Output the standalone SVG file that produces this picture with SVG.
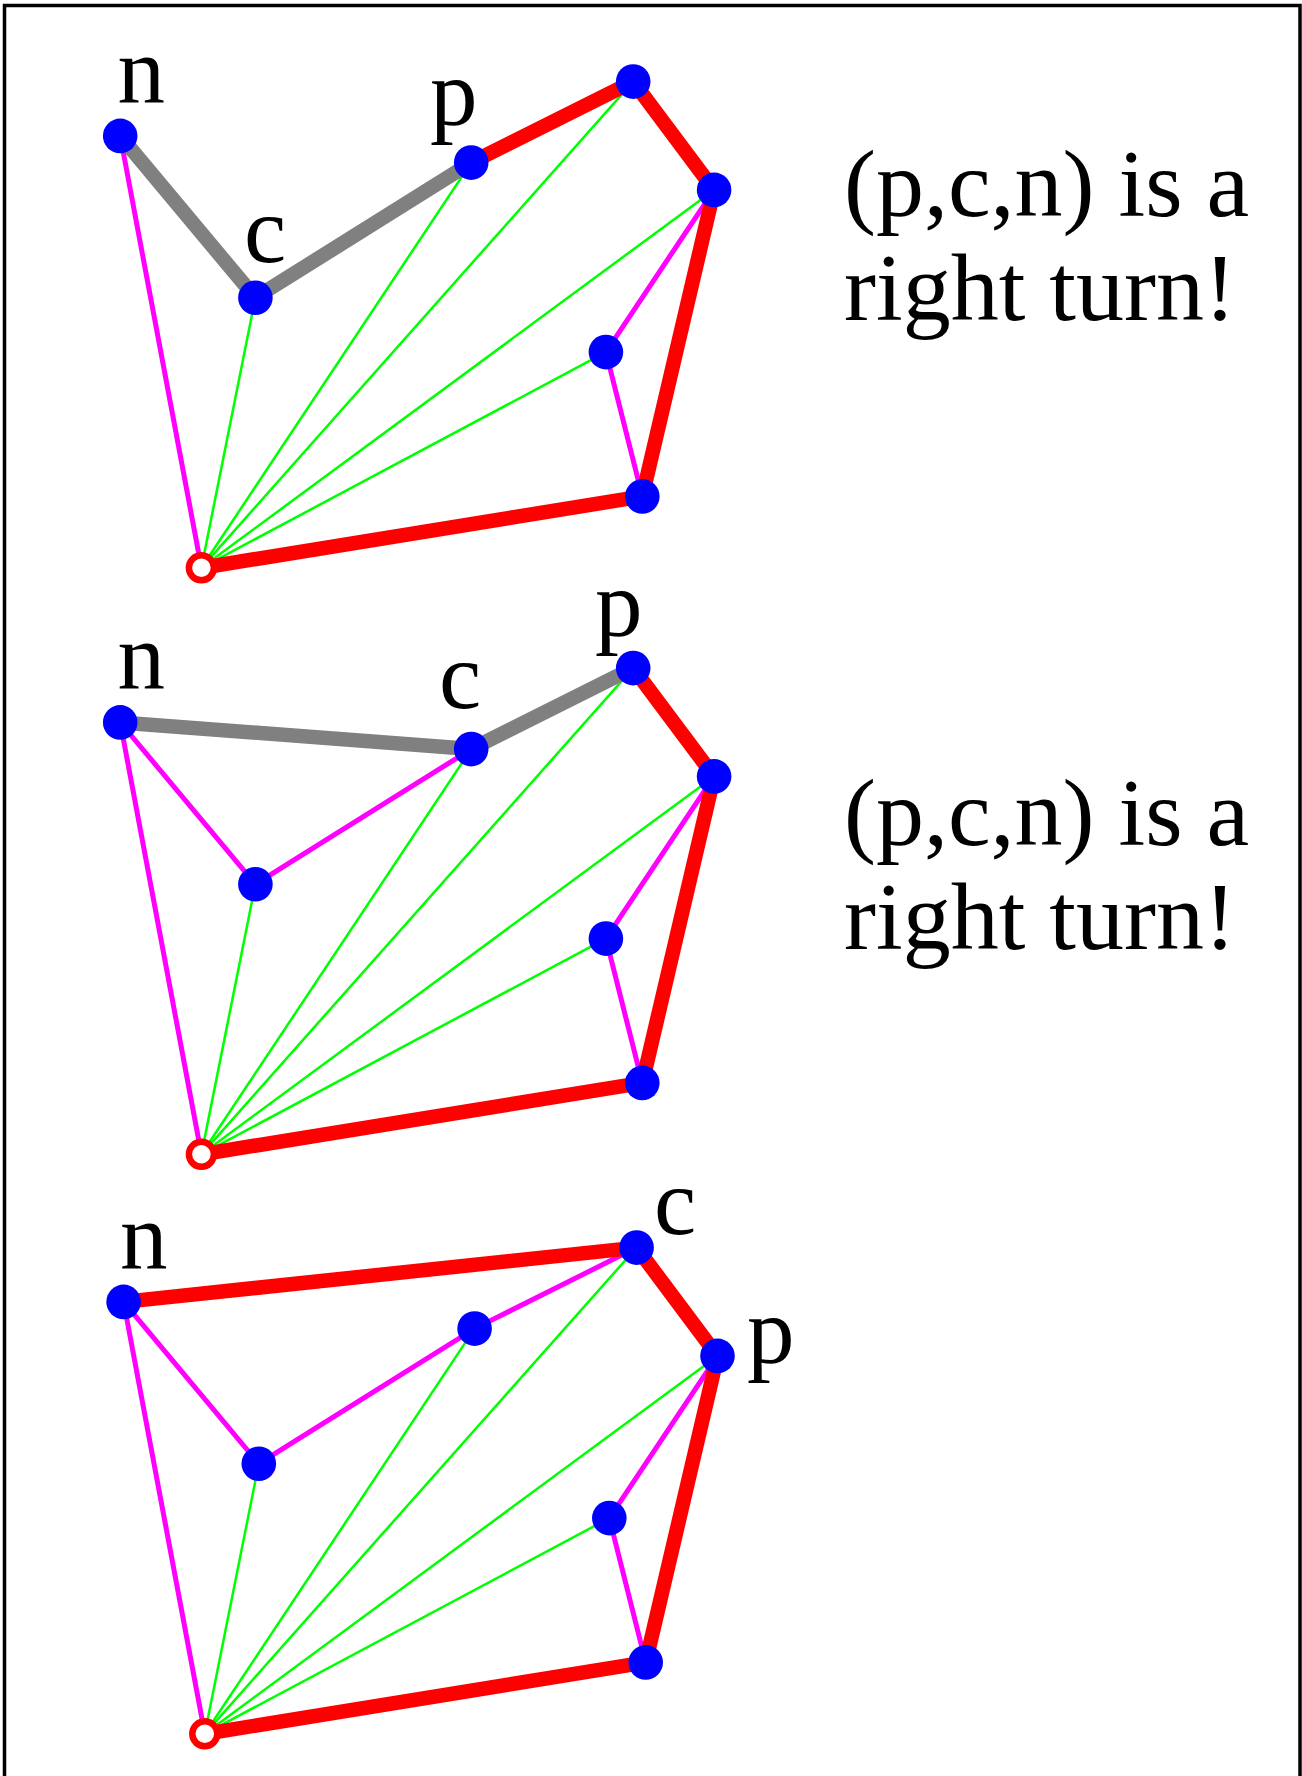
<svg xmlns="http://www.w3.org/2000/svg" width="1302" height="1776" viewBox="0 0 1302 1776">
<style>
.g{stroke:#00ff00;stroke-width:2.5;fill:none;stroke-linecap:round}
.m{stroke:#ff00ff;stroke-width:5;fill:none;stroke-linecap:round}
.r{stroke:#ff0000;stroke-width:14.5;fill:none;stroke-linecap:round;stroke-linejoin:round}
.k{stroke:#808080;stroke-width:14.5;fill:none;stroke-linecap:round;stroke-linejoin:round}
.v{fill:#0000ff}
.s{fill:#ffffff;stroke:#ff0000;stroke-width:6.5}
text{font-family:"Liberation Serif","Times New Roman",serif;font-size:95px;fill:#000}
.cap{font-size:96px}
</style>
<rect x="4.5" y="5.5" width="1295.5" height="1800" fill="#ffffff" stroke="#000000" stroke-width="3.5"/>

<g id="panel1">
 <g id="p1-connectors">
  <line class="g" x1="201.4" y1="567.8" x2="255.4" y2="297.7"/>
  <line class="g" x1="201.4" y1="567.8" x2="471.2" y2="162.6"/>
  <line class="g" x1="201.4" y1="567.8" x2="633.2" y2="81.6"/>
  <line class="g" x1="201.4" y1="567.8" x2="714.1" y2="189.9"/>
  <line class="g" x1="201.4" y1="567.8" x2="605.9" y2="352.1"/>
  <line class="m" x1="201.4" y1="567.8" x2="120.2" y2="135.9"/>
  <line class="m" x1="714.1" y1="189.9" x2="605.9" y2="352.1"/>
  <line class="m" x1="605.9" y1="352.1" x2="642.3" y2="496.4"/>
  <polyline class="k" points="120.2,135.9 255.4,297.7 471.2,162.6"/>
  <polyline class="r" points="471.2,162.6 633.2,81.6 714.1,189.9 642.3,496.4 201.4,567.8"/>
 </g>
 <g id="p1-n"><circle class="v" cx="120.2" cy="135.9" r="17.3"/><text x="117.5" y="102.5">n</text></g>
 <g id="p1-c"><circle class="v" cx="255.4" cy="297.7" r="17.3"/><text x="244" y="262">c</text></g>
 <g id="p1-p"><circle class="v" cx="471.2" cy="162.6" r="17.3"/><text x="430" y="124.5">p</text></g>
 <g id="p1-v4"><circle class="v" cx="633.2" cy="81.6" r="17.3"/></g>
 <g id="p1-v5"><circle class="v" cx="714.1" cy="189.9" r="17.3"/></g>
 <g id="p1-v6"><circle class="v" cx="605.9" cy="352.1" r="17.3"/></g>
 <g id="p1-v7"><circle class="v" cx="642.3" cy="496.4" r="17.3"/></g>
 <g id="p1-start"><circle class="s" cx="201.4" cy="567.8" r="12.5"/></g>
 <g id="p1-caption"><text class="cap" x="844" y="216">(p,c,n) is a</text><text class="cap" x="844" y="320">right turn!</text></g>
</g>

<g id="panel2">
 <g id="p2-connectors" transform="translate(0,586.5)">
  <line class="g" x1="201.4" y1="567.8" x2="255.4" y2="297.7"/>
  <line class="g" x1="201.4" y1="567.8" x2="471.2" y2="162.6"/>
  <line class="g" x1="201.4" y1="567.8" x2="633.2" y2="81.6"/>
  <line class="g" x1="201.4" y1="567.8" x2="714.1" y2="189.9"/>
  <line class="g" x1="201.4" y1="567.8" x2="605.9" y2="352.1"/>
  <line class="m" x1="201.4" y1="567.8" x2="120.2" y2="135.9"/>
  <polyline class="m" points="120.2,135.9 255.4,297.7 471.2,162.6"/>
  <line class="m" x1="714.1" y1="189.9" x2="605.9" y2="352.1"/>
  <line class="m" x1="605.9" y1="352.1" x2="642.3" y2="496.4"/>
  <polyline class="k" points="120.2,135.9 471.2,162.6 633.2,81.6"/>
  <polyline class="r" points="633.2,81.6 714.1,189.9 642.3,496.4 201.4,567.8"/>
 </g>
 <g transform="translate(0,586.5)">
 <g id="p2-n"><circle class="v" cx="120.2" cy="135.9" r="17.3"/><text x="117.5" y="102.5">n</text></g>
 <g id="p2-v2"><circle class="v" cx="255.4" cy="297.7" r="17.3"/></g>
 <g id="p2-c"><circle class="v" cx="471.2" cy="162.6" r="17.3"/><text x="439" y="121.5">c</text></g>
 <g id="p2-p"><circle class="v" cx="633.2" cy="81.6" r="17.3"/><text x="595" y="49">p</text></g>
 <g id="p2-v5"><circle class="v" cx="714.1" cy="189.9" r="17.3"/></g>
 <g id="p2-v6"><circle class="v" cx="605.9" cy="352.1" r="17.3"/></g>
 <g id="p2-v7"><circle class="v" cx="642.3" cy="496.4" r="17.3"/></g>
 <g id="p2-start"><circle class="s" cx="201.4" cy="567.8" r="12.5"/></g>
 </g>
 <g id="p2-caption"><text class="cap" x="844" y="845">(p,c,n) is a</text><text class="cap" x="844" y="948.5">right turn!</text></g>
</g>

<g id="panel3">
 <g id="p3-connectors" transform="translate(3.4,1166)">
  <line class="g" x1="201.4" y1="567.8" x2="255.4" y2="297.7"/>
  <line class="g" x1="201.4" y1="567.8" x2="471.2" y2="162.6"/>
  <line class="g" x1="201.4" y1="567.8" x2="633.2" y2="81.6"/>
  <line class="g" x1="201.4" y1="567.8" x2="714.1" y2="189.9"/>
  <line class="g" x1="201.4" y1="567.8" x2="605.9" y2="352.1"/>
  <line class="m" x1="201.4" y1="567.8" x2="120.2" y2="135.9"/>
  <polyline class="m" points="120.2,135.9 255.4,297.7 471.2,162.6 633.2,81.6"/>
  <line class="m" x1="714.1" y1="189.9" x2="605.9" y2="352.1"/>
  <line class="m" x1="605.9" y1="352.1" x2="642.3" y2="496.4"/>
  <polyline class="r" points="120.2,135.9 633.2,81.6 714.1,189.9 642.3,496.4 201.4,567.8"/>
 </g>
 <g transform="translate(3.4,1166)">
 <g id="p3-n"><circle class="v" cx="120.2" cy="135.9" r="17.3"/><text x="116.6" y="102.6">n</text></g>
 <g id="p3-v2"><circle class="v" cx="255.4" cy="297.7" r="17.3"/></g>
 <g id="p3-v3"><circle class="v" cx="471.2" cy="162.6" r="17.3"/></g>
 <g id="p3-c"><circle class="v" cx="633.2" cy="81.6" r="17.3"/><text x="650.6" y="68">c</text></g>
 <g id="p3-p"><circle class="v" cx="714.1" cy="189.9" r="17.3"/><text x="743.6" y="197">p</text></g>
 <g id="p3-v6"><circle class="v" cx="605.9" cy="352.1" r="17.3"/></g>
 <g id="p3-v7"><circle class="v" cx="642.3" cy="496.4" r="17.3"/></g>
 <g id="p3-start"><circle class="s" cx="201.4" cy="567.8" r="12.5"/></g>
 </g>
</g>
</svg>
